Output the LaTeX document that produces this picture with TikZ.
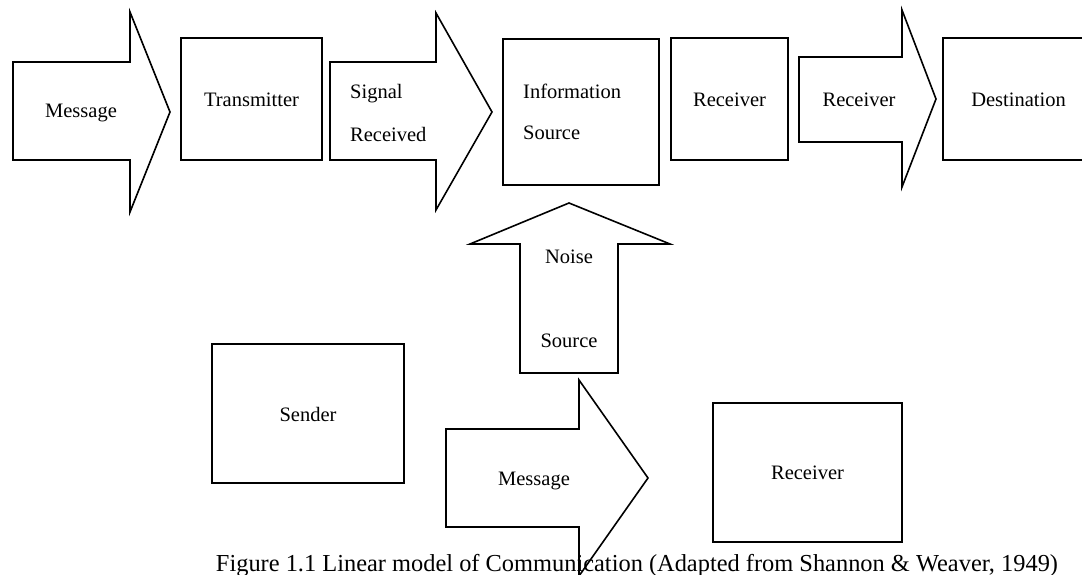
\documentclass[tikz,border=0pt]{standalone}
\usepackage{fontspec}
\setmainfont{Liberation Serif}
\begin{document}
\begin{tikzpicture}[x=1pt,y=-1pt,
  shapeline/.style={draw=black,line width=1.6pt,line join=miter},
  lbl/.style={inner sep=0pt,anchor=base,font=\fontsize{20.5}{24}\selectfont},
  lblw/.style={inner sep=0pt,anchor=base west,font=\fontsize{20.5}{24}\selectfont},
  captext/.style={inner sep=0pt,anchor=base,font=\fontsize{24.4}{28}\selectfont}]
\clip (0,0) rectangle (1082,575);
\fill[white] (0,0) rectangle (1082,575);
% top row
\draw[shapeline] (13,62) -- (130,62) -- (130,12) -- (170,112) -- (130,212) -- (130,160) -- (13,160) -- cycle;
\node[lbl] (msg1) at (81,118) {Message};
\draw[shapeline] (181,38) rectangle (322,160);
\node[lbl] (tx) at (251.5,107) {Transmitter};
\draw[shapeline] (330,62) -- (436,62) -- (436,13) -- (492,112) -- (436,210) -- (436,160) -- (330,160) -- cycle;
\node[lblw] (sig1) at (350,99) {Signal};
\node[lblw] (sig2) at (350,142) {Received};
\draw[shapeline] (503,39) rectangle (659,185);
\node[lblw] (info1) at (523,99) {Information};
\node[lblw] (info2) at (523,140) {Source};
\draw[shapeline] (671,38) rectangle (788,160);
\node[lbl] (rx1) at (729.5,107) {Receiver};
\draw[shapeline] (799,57) -- (902,57) -- (902,10) -- (936,99) -- (902,187) -- (902,142) -- (799,142) -- cycle;
\node[lbl] (rx2) at (859,107) {Receiver};
\draw[shapeline] (943,38) rectangle (1095,160);
\node[lbl] (dest) at (1018.5,107) {Destination};
% noise arrow
\draw[shapeline] (520,373) -- (520,244) -- (470,244) -- (569,203) -- (670,244) -- (618,244) -- (618,373) -- cycle;
\node[lbl] (noise1) at (569,263) {Noise};
\node[lbl] (noise2) at (569,347) {Source};
% bottom row
\draw[shapeline] (212,344) rectangle (404,483);
\node[lbl] (sender) at (308,421) {Sender};
\draw[shapeline] (446,429) -- (579,429) -- (579,380) -- (648,478) -- (579,576) -- (579,527) -- (446,527) -- cycle;
\node[lbl] (msg2) at (534,485) {Message};
\draw[shapeline] (713,403) rectangle (902,542);
\node[lbl] (rx3) at (807.5,479) {Receiver};
% caption
\node[captext] (caption) at (637,571) {Figure 1.1 Linear model of Communication (Adapted from Shannon \& Weaver, 1949)};
\end{tikzpicture}
\end{document}
